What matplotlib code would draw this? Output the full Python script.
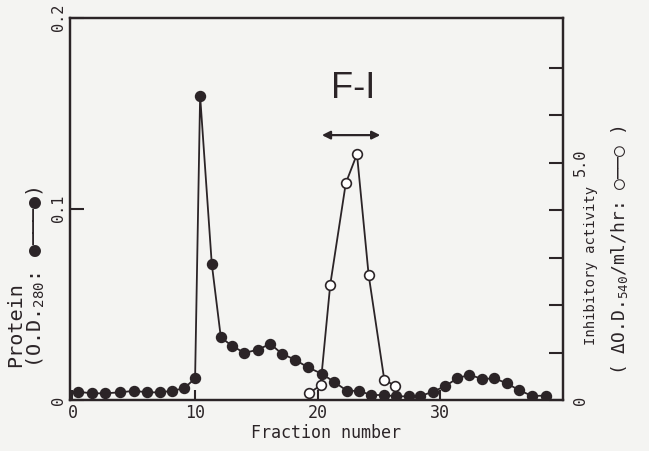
import matplotlib.pyplot as plt
from matplotlib.ticker import FixedLocator, FixedFormatter

# Protein elution (O.D. 280) - filled circles, left axis
protein_fraction = [0.47, 1.57, 2.65, 3.88, 5.02, 6.11, 7.14, 8.10, 9.10, 10.0,
                    10.41, 11.36, 12.10, 13.0, 14.02, 15.17, 16.12, 17.08, 18.16, 19.22,
                    20.34, 21.35, 22.37, 23.39, 24.37, 25.37, 26.41, 27.41, 28.37, 29.39,
                    30.41, 31.36, 32.37, 33.4, 34.41, 35.44, 36.39, 37.49, 38.61]
protein_od = [0.0043, 0.0035, 0.0035, 0.0040, 0.0048, 0.0040, 0.0040, 0.0048, 0.0061, 0.0113,
              0.159, 0.0712, 0.0327, 0.0284, 0.0246, 0.0264, 0.0294, 0.0242, 0.0210, 0.0170,
              0.0137, 0.0094, 0.0049, 0.0047, 0.0026, 0.0026, 0.0019, 0.0019, 0.0021, 0.0043,
              0.0073, 0.0113, 0.0132, 0.0110, 0.0113, 0.0087, 0.0052, 0.0021, 0.0023]

# Inhibitory activity - open circles, right axis
activity_fraction = [19.28, 20.23, 21.02, 22.29, 23.2, 24.15, 25.43, 26.33]
activity = [0.14, 0.31, 2.43, 4.57, 5.18, 2.64, 0.42, 0.30]

x_ticks = [0, 10, 20, 30]
left_ticks = [0, 0.1, 0.2]
left_labels = ['0', '0.1', '0.2']
right_ticks = [0, 1, 2, 3, 4, 5, 6, 7]
right_labels = ['0', '', '', '', '', '5.0', '', '']

ink = '#2b2427'
bg = '#f4f4f2'
mono = ['DejaVu Sans Mono', 'DejaVu Sans']

plt.rcParams['font.family'] = mono
plt.rcParams['mathtext.fontset'] = 'custom'
plt.rcParams['mathtext.rm'] = 'DejaVu Sans Mono'
plt.rcParams['mathtext.it'] = 'DejaVu Sans Mono'
plt.rcParams['text.color'] = ink

fig = plt.figure(figsize=(6.49, 4.51), dpi=100, facecolor=bg)
ax = fig.add_axes([70 / 649, 51 / 451, 493 / 649, 382.5 / 451])
ax.set_facecolor(bg)

ax.plot(protein_fraction, protein_od, '-o', color=ink, lw=1.3,
        ms=7.2, mfc=ink, mec=ink, zorder=3)
ax.set_xlim(-0.2, 40)
ax.set_ylim(0, 0.2)

ax.set_xticks(x_ticks)
ax.yaxis.set_major_locator(FixedLocator(left_ticks))
ax.yaxis.set_major_formatter(FixedFormatter(left_labels))
ax.tick_params(axis='x', direction='in', length=7, width=1.5, colors=ink,
               labelsize=12, pad=3)
ax.tick_params(axis='y', direction='in', length=10, width=1.5, colors=ink,
               labelsize=11, pad=3, labelrotation=90)
for lab in ax.get_yticklabels():
    lab.set_va('center')
for sp in ax.spines.values():
    sp.set_linewidth(1.6)
    sp.set_color(ink)

ax.set_xlabel('Fraction number', fontsize=12, color=ink)
ax.xaxis.set_label_coords((326 - 70) / 493, -0.064)

ax2 = ax.twinx()
ax2.plot(activity_fraction, activity, '-o', color=ink, lw=1.3,
         ms=7, mfc='white', mec=ink, mew=1.2, zorder=4)
ax2.set_ylim(0, 8.06)
ax2.yaxis.set_major_locator(FixedLocator(right_ticks))
ax2.yaxis.set_major_formatter(FixedFormatter(right_labels))
ax2.tick_params(axis='y', direction='in', length=10, width=1.5, colors=ink,
                labelsize=11, pad=7, labelrotation=90)
for lab in ax2.get_yticklabels():
    lab.set_va('center')
for sp in ax2.spines.values():
    sp.set_linewidth(1.6)
    sp.set_color(ink)

# F-I pool marker
ax.text(22.86, 0.158, 'F-I', fontsize=26, family='Liberation Sans',
        ha='center', va='baseline', color=ink)
ax.annotate('', xy=(20.34, 0.1385), xytext=(25.1, 0.1385),
            arrowprops=dict(arrowstyle='<|-|>', color=ink, lw=1.6,
                            mutation_scale=12, shrinkA=0, shrinkB=0))

# axis titles placed in figure pixels
W, H = 649, 451
fig.text(16 / W, 1 - 367 / H, 'Protein', rotation=90, fontsize=14.5,
         ha='center', va='bottom', family=mono)
fig.text(36 / W, 1 - 368 / H, '(O.D.$_{280}$: ●───●)', rotation=90, fontsize=14.5,
         ha='center', va='bottom', family=mono)
fig.text(591 / W, 1 - 265 / H, 'Inhibitory activity', rotation=90, fontsize=10,
         ha='center', va='center', family=mono)
fig.text(619 / W, 1 - 250 / H, '( ΔO.D.$_{540}$/ml/hr: ○──○ )', rotation=90,
         fontsize=13, ha='center', va='center', family=mono)

fig.savefig('out.png', dpi=100, facecolor=bg)
